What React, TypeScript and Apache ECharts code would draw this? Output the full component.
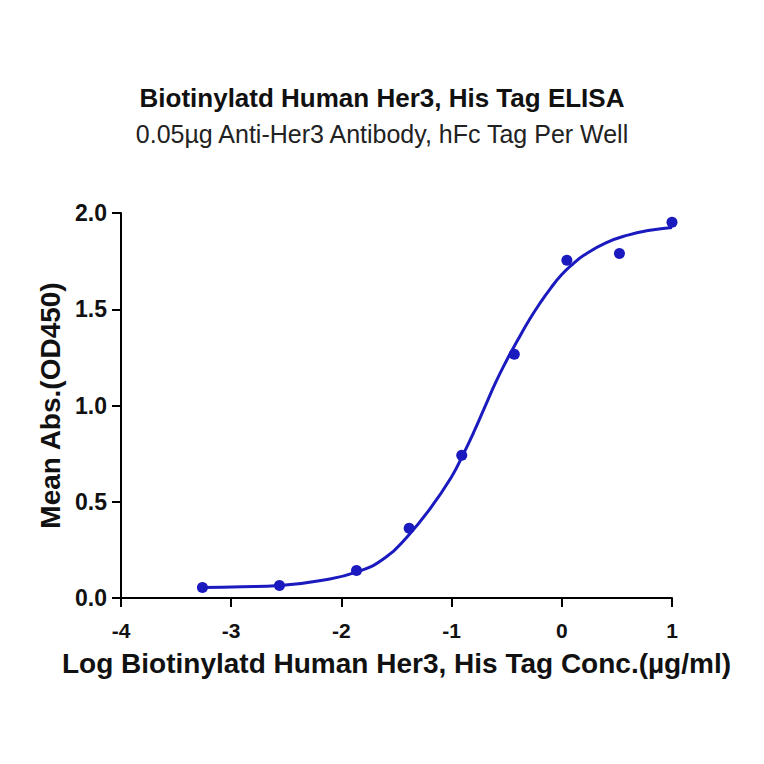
import React, { useEffect, useRef } from "react";
import * as echarts from "echarts";

// measured points: log concentration (µg/ml) vs mean OD450
const logConc = [-3.261, -2.562, -1.863, -1.385, -0.908, -0.431, 0.046, 0.523, 1.0];
const meanAbs = [0.055, 0.065, 0.143, 0.362, 0.742, 1.266, 1.755, 1.79, 1.952];

// fitted curve
const curveX = [-3.26, -2.9, -2.56, -2.2, -1.85, -1.6, -1.4, -1.2, -1.0, -0.9, -0.8, -0.7, -0.6, -0.5, -0.4, -0.3, -0.2, -0.1, 0.0, 0.1, 0.2, 0.4, 0.6, 0.8, 1.0];
const curveY = [0.055, 0.058, 0.065, 0.09, 0.137, 0.21, 0.32, 0.46, 0.63, 0.74, 0.86, 0.99, 1.12, 1.235, 1.34, 1.44, 1.53, 1.61, 1.68, 1.735, 1.78, 1.845, 1.885, 1.91, 1.925];

const xTicks = [-4, -3, -2, -1, 0, 1];
const yTicks = [0, 0.5, 1.0, 1.5, 2.0];

const BLUE = "#1a1abf";
const FONT = "Liberation Sans, Arial, sans-serif";

const App = () => {
  const chartRef = useRef<HTMLDivElement>(null);

  useEffect(() => {
    if (!chartRef.current) return;
    const chart = echarts.init(chartRef.current, null, { renderer: "svg" });

    const option = {
      animation: false,
      backgroundColor: "#ffffff",
      title: {
        text: "Biotinylatd Human Her3, His Tag ELISA",
        subtext: "0.05µg Anti-Her3 Antibody, hFc Tag Per Well",
        left: "center",
        top: 80,
        itemGap: 10,
        textStyle: { fontFamily: FONT, fontSize: 26, fontWeight: "bold", color: "#111" },
        subtextStyle: { fontFamily: FONT, fontSize: 25, color: "#222" },
      },
      grid: { left: 121, right: 92, top: 213, bottom: 166 },
      xAxis: {
        type: "value",
        min: xTicks[0],
        max: xTicks[xTicks.length - 1],
        interval: 1,
        name: "Log Biotinylatd Human Her3, His Tag Conc.(µg/ml)",
        nameLocation: "middle",
        nameGap: 51,
        nameTextStyle: { fontFamily: FONT, fontSize: 28, fontWeight: "bold", color: "#111" },
        axisLine: { show: true, onZero: false, lineStyle: { color: "#000", width: 2 } },
        axisTick: { show: true, length: 9, lineStyle: { color: "#000", width: 2 } },
        axisLabel: { fontFamily: FONT, fontSize: 21, fontWeight: "bold", color: "#111", margin: 22 },
        splitLine: { show: false },
      },
      yAxis: {
        type: "value",
        min: yTicks[0],
        max: yTicks[yTicks.length - 1],
        interval: 0.5,
        name: "Mean Abs.(OD450)",
        nameLocation: "middle",
        nameGap: 56,
        nameTextStyle: { fontFamily: FONT, fontSize: 28, fontWeight: "bold", color: "#111" },
        axisLine: { show: true, onZero: false, lineStyle: { color: "#000", width: 2 } },
        axisTick: { show: true, length: 9, lineStyle: { color: "#000", width: 2 } },
        axisLabel: {
          fontFamily: FONT,
          fontSize: 23,
          fontWeight: "bold",
          color: "#111",
          margin: 14,
          formatter: (v: number) => v.toFixed(1),
        },
        splitLine: { show: false },
      },
      series: [
        {
          type: "line",
          data: curveX.map((x, i) => [x, curveY[i]]),
          smooth: true,
          showSymbol: false,
          lineStyle: { color: BLUE, width: 3 },
          z: 2,
        },
        {
          type: "scatter",
          data: logConc.map((x, i) => [x, meanAbs[i]]),
          symbolSize: 11,
          itemStyle: { color: BLUE, opacity: 1 },
          z: 3,
        },
      ],
    };

    chart.setOption(option);

    return () => {
      chart.dispose();
    };
  }, []);

  return (
    <div
      ref={chartRef}
      style={{ position: "absolute", left: 0, top: 0, width: "764px", height: "764px" }}
    ></div>
  );
};

export default App;
